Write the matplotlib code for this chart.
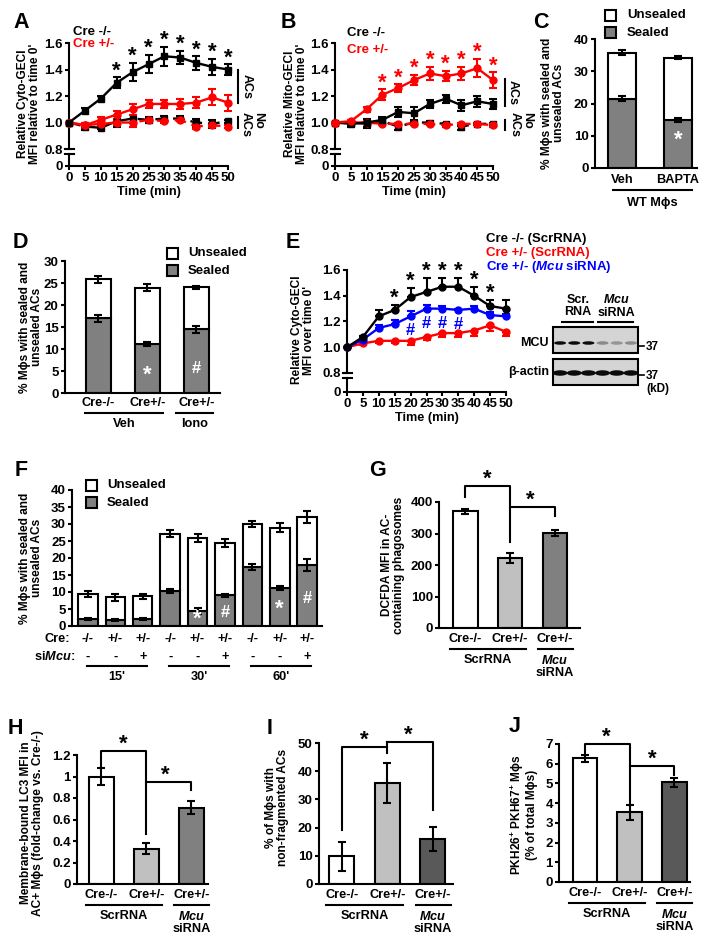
import numpy as np
import matplotlib
matplotlib.use('Agg')
import matplotlib.pyplot as plt
import matplotlib.transforms as mtransforms
from matplotlib.patches import Rectangle, Ellipse

plt.rcParams['font.family'] = ['Liberation Sans', 'DejaVu Sans']
plt.rcParams['font.weight'] = 'bold'
plt.rcParams['font.size'] = 9.5
plt.rcParams['axes.linewidth'] = 1.5
plt.rcParams['xtick.major.width'] = 1.5
plt.rcParams['ytick.major.width'] = 1.5
plt.rcParams['xtick.major.size'] = 3
plt.rcParams['ytick.major.size'] = 3
plt.rcParams['xtick.major.pad'] = 1.5
plt.rcParams['ytick.major.pad'] = 1.5
plt.rcParams['mathtext.fontset'] = 'custom'
plt.rcParams['mathtext.rm'] = 'Liberation Sans:bold'
plt.rcParams['mathtext.it'] = 'Liberation Sans:italic:bold'
plt.rcParams['mathtext.bf'] = 'Liberation Sans:bold'

# ---------------- data ----------------
times = [0, 5, 10, 15, 20, 25, 30, 35, 40, 45, 50]

# A: cyto-GECI
a_ko = [1.00, 1.09, 1.18, 1.30, 1.38, 1.44, 1.50, 1.49, 1.45, 1.42, 1.40]
a_ko_err = [0.00, 0.02, 0.02, 0.04, 0.07, 0.07, 0.07, 0.05, 0.05, 0.06, 0.04]
a_het = [1.00, 0.98, 1.02, 1.06, 1.10, 1.14, 1.14, 1.14, 1.15, 1.19, 1.15]
a_het_err = [0.00, 0.02, 0.02, 0.03, 0.04, 0.03, 0.03, 0.04, 0.04, 0.06, 0.06]
a_ko_noac = [1.00, 0.97, 0.96, 1.01, 1.03, 1.02, 1.03, 1.03, 1.00, 0.99, 1.01]
a_ko_noac_err = [0.00, 0.03, 0.01, 0.04, 0.03, 0.02, 0.02, 0.02, 0.03, 0.03, 0.01]
a_het_noac = [1.00, 0.98, 0.99, 1.00, 1.00, 1.02, 1.01, 1.02, 0.97, 0.98, 0.97]
a_het_noac_err = [0.00, 0.01, 0.01, 0.02, 0.03, 0.01, 0.01, 0.01, 0.02, 0.01, 0.01]

# B: mito-GECI
b_het = [1.00, 1.01, 1.10, 1.21, 1.26, 1.32, 1.37, 1.35, 1.37, 1.41, 1.32]
b_het_err = [0.00, 0.01, 0.02, 0.04, 0.03, 0.04, 0.05, 0.04, 0.05, 0.07, 0.06]
b_ko = [1.00, 0.99, 1.00, 1.02, 1.08, 1.07, 1.14, 1.18, 1.13, 1.16, 1.14]
b_ko_err = [0.00, 0.02, 0.03, 0.02, 0.04, 0.05, 0.03, 0.03, 0.04, 0.04, 0.04]
b_ko_noac = [1.00, 1.00, 0.99, 1.01, 0.97, 1.00, 1.00, 0.99, 0.97, 0.99, 0.99]
b_ko_noac_err = [0.00, 0.02, 0.03, 0.02, 0.03, 0.01, 0.01, 0.01, 0.03, 0.01, 0.01]
b_het_noac = [1.00, 1.00, 1.00, 0.99, 0.99, 0.99, 0.99, 0.98, 0.99, 0.99, 0.98]
b_het_noac_err = [0.00, 0.01, 0.01, 0.01, 0.01, 0.01, 0.01, 0.01, 0.01, 0.01, 0.01]

# C
c_groups = ['Veh', 'BAPTA']
c_total = [35.8, 34.2]
c_total_err = [0.9, 0.4]
c_sealed = [21.5, 14.8]
c_sealed_err = [0.8, 0.6]

# D
d_labels = ['Cre-/-', 'Cre+/-', 'Cre+/-']
d_total = [25.8, 23.9, 24.0]
d_total_err = [0.8, 0.8, 0.4]
d_sealed = [17.0, 11.2, 14.5]
d_sealed_err = [0.8, 0.5, 0.8]

# E
e_ko = [1.00, 1.08, 1.24, 1.29, 1.39, 1.43, 1.47, 1.47, 1.40, 1.32, 1.30]
e_ko_err = [0.00, 0.01, 0.05, 0.04, 0.07, 0.11, 0.07, 0.07, 0.07, 0.05, 0.07]
e_si = [1.00, 1.06, 1.15, 1.18, 1.24, 1.30, 1.30, 1.29, 1.30, 1.25, 1.24]
e_si_err = [0.00, 0.01, 0.02, 0.03, 0.04, 0.03, 0.02, 0.01, 0.02, 0.02, 0.02]
e_het = [1.00, 1.03, 1.05, 1.05, 1.05, 1.08, 1.11, 1.11, 1.13, 1.17, 1.12]
e_het_err = [0.00, 0.01, 0.02, 0.02, 0.03, 0.02, 0.03, 0.03, 0.04, 0.04, 0.03]
mcu_band = [0.95, 0.95, 0.95, 0.35, 0.3, 0.35]

# F
f_cre = ['-/-', '+/-', '+/-'] * 3
f_si = ['-', '-', '+'] * 3
f_time = ["15'", "30'", "60'"]
f_total = [9.4, 8.4, 8.7, 27.2, 25.9, 24.5, 30.0, 28.9, 32.0]
f_total_err = [1.0, 0.9, 0.8, 0.9, 1.3, 1.2, 0.8, 1.3, 1.8]
f_sealed = [2.2, 1.8, 2.0, 10.3, 4.5, 9.0, 17.3, 11.2, 18.0]
f_sealed_err = [0.3, 0.3, 0.3, 0.7, 0.9, 0.5, 0.8, 0.7, 1.8]
f_marks = ['', '', '', '', '*', '#', '', '*', '#']

# G-J
grp_labels = ['Cre-/-', 'Cre+/-', 'Cre+/-']
g_vals = [370, 222, 302]
g_err = [8, 15, 10]
h_vals = [1.00, 0.33, 0.71]
h_err = [0.08, 0.05, 0.06]
i_vals = [9.8, 35.8, 15.9]
i_err = [5.2, 7.2, 4.3]
j_vals = [6.28, 3.55, 5.05]
j_err = [0.18, 0.38, 0.22]

RED = '#ff0000'
BLUE = '#0000ff'
GRAY = '#808080'
TXT = 9.2

W, H = 714, 943
fig = plt.figure(figsize=(W / 100, H / 100), dpi=100)


def add_ax(x0, x1, ytop, ybot):
    ax = fig.add_axes([x0 / W, 1 - ybot / H, (x1 - x0) / W, (ybot - ytop) / H])
    ax.spines['top'].set_visible(False)
    ax.spines['right'].set_visible(False)
    return ax


def below(ax, dy):
    return mtransforms.offset_copy(ax.get_xaxis_transform(), fig=fig, x=0, y=-dy, units='dots')


def noclip(eb):
    for a in eb.get_children():
        a.set_clip_on(False)


def gec_axes(ax, k, lowcap):
    def fwd(y):
        y = np.asarray(y, float)
        return np.where(y >= 0.8, y, 0.8 - (0.8 - y) * k)

    def inv(y):
        y = np.asarray(y, float)
        return np.where(y >= 0.8, y, 0.8 - (0.8 - y) / k)
    ax.set_yscale('function', functions=(fwd, inv))
    ax.set_ylim(0, 1.6)
    ax.set_xlim(0, 50)
    ax.set_yticks([0, 0.8, 1.0, 1.2, 1.4, 1.6])
    ax.set_yticklabels(['0', '0.8', '1.0', '1.2', '1.4', '1.6'])
    ax.set_xticks(times)
    ax.spines['left'].set_visible(False)
    tr = ax.get_yaxis_transform()
    wpx = ax.get_position().width * W
    w = 4.5 / wpx
    ax.plot([0, 0], [0.8, 1.6], transform=tr, color='k', lw=1.5, clip_on=False)
    ax.plot([0, 0], [0, lowcap], transform=tr, color='k', lw=1.5, clip_on=False)
    for yy in (0.8, lowcap):
        ax.plot([-w, w], [yy, yy], transform=tr, color='k', lw=1.5, clip_on=False)
    ax.text(25, 0, 'Time (min)', transform=below(ax, 26), ha='center', va='center', fontsize=TXT)


def series(ax, y, err, color, marker, ls='-', lolims=None):
    yerr = err
    if lolims == 'up':
        yerr = [np.zeros(len(err)), err]
    elif lolims == 'down':
        yerr = [err, np.zeros(len(err))]
    eb = ax.errorbar(times, y, yerr=yerr, color=color, lw=1.7, ls=ls, marker=marker, ms=5,
                     capsize=3, capthick=1.5, elinewidth=1.5, zorder=3)
    if ls != '-':
        eb[0].set_dashes((5, 2.5))
    noclip(eb)


def star(ax, x, y, s='*', color='k', size=16, dy=-3):
    ax.annotate(s, xy=(x, y), xytext=(0, dy), textcoords='offset points', ha='center',
                va='bottom', color=color, fontsize=size, annotation_clip=False)


# ---------------- A ----------------
axA = add_ax(69, 228, 43, 166)
gec_axes(axA, 0.16, 0.565)
series(axA, a_ko_noac, a_ko_noac_err, 'k', 's', ls='--')
series(axA, a_het_noac, a_het_noac_err, RED, 'o', ls='--')
series(axA, a_het, a_het_err, RED, 'o')
series(axA, a_ko, a_ko_err, 'k', 's')
for x, y, e in zip(times[3:], a_ko[3:], a_ko_err[3:]):
    star(axA, x, y + e)

# ---------------- B ----------------
axB = add_ax(335, 493, 43, 166)
gec_axes(axB, 0.16, 0.565)
series(axB, b_ko_noac, b_ko_noac_err, 'k', 's', ls='--')
series(axB, b_het_noac, b_het_noac_err, RED, 'o', ls='--')
series(axB, b_ko, b_ko_err, 'k', 's')
series(axB, b_het, b_het_err, RED, 'o')
for x, y, e in zip(times[3:], b_het[3:], b_het_err[3:]):
    star(axB, x, y + e, color=RED)


def stacked(ax, x, total, total_err, sealed, sealed_err, width):
    unsealed = np.array(total) - np.array(sealed)
    ax.bar(x, sealed, width, color=GRAY, edgecolor='k', lw=1.5, zorder=2)
    ax.bar(x, unsealed, width, bottom=sealed, color='white', edgecolor='k', lw=1.5, zorder=2)
    for vals, errs in ((total, total_err), (sealed, sealed_err)):
        eb = ax.errorbar(x, vals, yerr=errs, fmt='none', ecolor='k', elinewidth=1.5,
                         capsize=3, capthick=1.5, zorder=3)
        noclip(eb)
    ax.set_xticks([])


# ---------------- C ----------------
axC = add_ax(595, 697, 39, 168)
c_x = np.arange(len(c_groups))
stacked(axC, c_x, c_total, c_total_err, c_sealed, c_sealed_err, 0.5)
axC.set_xlim(-0.48, 1.34)
axC.set_ylim(0, 40)
axC.set_yticks([0, 10, 20, 30, 40])
for x, s in zip(c_x, c_groups):
    axC.text(x, 0, s, transform=below(axC, 12), ha='center', va='center', fontsize=TXT)
axC.plot([-0.16, 1.25], [0, 0], transform=below(axC, 22), color='k', lw=1.5, clip_on=False)
axC.text(0.55, 0, 'WT Mϕs', transform=below(axC, 35), ha='center', va='center', fontsize=TXT)
axC.text(1, 8.5, '*', ha='center', va='center', color='white', fontsize=16)

# ---------------- D ----------------
axD = add_ax(65, 220, 261, 393)
d_x = np.arange(len(d_labels))
stacked(axD, d_x, d_total, d_total_err, d_sealed, d_sealed_err, 0.51)
axD.set_xlim(-0.68, 2.48)
axD.set_ylim(0, 30)
axD.set_yticks([0, 5, 10, 15, 20, 25, 30])
for x, s in zip(d_x, d_labels):
    axD.text(x, 0, s, transform=below(axD, 10), ha='center', va='center', fontsize=TXT)
axD.plot([-0.28, 1.32], [0, 0], transform=below(axD, 20), color='k', lw=1.5, clip_on=False)
axD.plot([1.58, 2.34], [0, 0], transform=below(axD, 20), color='k', lw=1.5, clip_on=False)
axD.text(0.52, 0, 'Veh', transform=below(axD, 31), ha='center', va='center', fontsize=TXT)
axD.text(1.96, 0, 'Iono', transform=below(axD, 31), ha='center', va='center', fontsize=TXT)
axD.text(1, 4.0, '*', ha='center', va='center', color='white', fontsize=16)
axD.text(2, 5.5, '#', ha='center', va='center', color='white', fontsize=12)

# ---------------- E ----------------
axE = add_ax(347, 506, 270, 392)
gec_axes(axE, 0.1845, 0.59)
series(axE, e_het, e_het_err, RED, 'o', lolims='down')
series(axE, e_si, e_si_err, BLUE, 'o', lolims='up')
series(axE, e_ko, e_ko_err, 'k', 'o', lolims='up')
for x, y, e in zip(times[3:10], e_ko[3:10], e_ko_err[3:10]):
    star(axE, x, y + e)
for x, y in zip(times[4:8], e_si[4:8]):
    axE.annotate('#', xy=(x, y), xytext=(0, -5), textcoords='offset points', ha='center',
                 va='top', color=BLUE, fontsize=12)

# ---------------- F ----------------
axF = add_ax(72, 322, 490, 626)
f_x = np.arange(len(f_total))
stacked(axF, f_x, f_total, f_total_err, f_sealed, f_sealed_err, 0.71)
axF.set_xlim(-0.58, 8.54)
axF.set_ylim(0, 40)
axF.set_yticks(range(0, 41, 5))
for x, s, m, sv in zip(f_x, f_cre, f_marks, f_sealed):
    axF.text(x, 0, s, transform=below(axF, 13), ha='center', va='center', fontsize=TXT)
    if m:
        axF.text(x, min(sv * 0.45, 8), m, ha='center', va='center', color='white',
                 fontsize=16 if m == '*' else 12)
for x, s in zip(f_x, f_si):
    axF.text(x, 0, s, transform=below(axF, 31), ha='center', va='center', fontsize=TXT)
axF.text(-0.66, 0, 'Cre:', transform=below(axF, 13), ha='right', va='center', fontsize=TXT)
axF.text(-0.47, 0, r'si$\mathit{Mcu}$:', transform=below(axF, 31), ha='right', va='center',
         fontsize=TXT)
for g, s in enumerate(f_time):
    axF.plot([g * 3 - 0.05, g * 3 + 2.15], [0, 0], transform=below(axF, 40), color='k', lw=1.5,
             clip_on=False)
    axF.text(g * 3 + 1.05, 0, s, transform=below(axF, 51), ha='center', va='center', fontsize=TXT)


# ---------------- G-J ----------------
def bars3(ax, vals, errs, colors, ylim, yticks, xlim, yticklabels=None):
    x = np.arange(3)
    ax.bar(x, vals, 0.55, color=colors, edgecolor='k', lw=1.5, zorder=2)
    eb = ax.errorbar(x, vals, yerr=errs, fmt='none', ecolor='k', elinewidth=1.5, capsize=3,
                     capthick=1.5, zorder=3)
    noclip(eb)
    ax.set_xlim(*xlim)
    ax.set_ylim(*ylim)
    ax.set_yticks(yticks)
    if yticklabels:
        ax.set_yticklabels(yticklabels)
    ax.set_xticks([])
    for xi, s in zip(x, grp_labels):
        ax.text(xi, 0, s, transform=below(ax, 11), ha='center', va='center', fontsize=TXT)
    ax.plot([-0.35, 1.35], [0, 0], transform=below(ax, 21), color='k', lw=1.5, clip_on=False)
    ax.plot([1.62, 2.4], [0, 0], transform=below(ax, 21), color='k', lw=1.5, clip_on=False)
    ax.text(0.5, 0, 'ScrRNA', transform=below(ax, 32), ha='center', va='center', fontsize=TXT)
    ax.text(2.0, 0, r'$\mathit{Mcu}$', transform=below(ax, 32), ha='center', va='center',
            fontsize=TXT)
    ax.text(2.0, 0, 'siRNA', transform=below(ax, 45), ha='center', va='center', fontsize=TXT)


def bracket(ax, xs, ys):
    ax.plot(xs, ys, color='k', lw=1.5, clip_on=False, zorder=4)


axG = add_ax(439, 580, 502, 628)
bars3(axG, g_vals, g_err, ['white', '#c0c0c0', GRAY], (0, 400), [0, 100, 200, 300, 400],
      (-0.59, 2.56))
bracket(axG, [0, 0, 1, 1], [416, 451, 451, 273])
bracket(axG, [1, 2, 2], [384, 384, 356])
star(axG, 0.48, 451)
star(axG, 1.45, 384)

axH = add_ax(77, 208, 755, 884)
bars3(axH, h_vals, h_err, ['white', '#c0c0c0', GRAY], (0, 1.2), [0, 0.2, 0.4, 0.6, 0.8, 1.0, 1.2],
      (-0.54, 2.37), ['0', '0.2', '0.4', '0.6', '0.8', '1', '1.2'])
bracket(axH, [0, 0, 1, 1], [1.09, 1.237, 1.237, 0.465])
bracket(axH, [1, 2, 2], [0.95, 0.95, 0.874])
star(axH, 0.48, 1.237)
star(axH, 1.43, 0.95)

axI = add_ax(319, 453, 743, 884)
bars3(axI, i_vals, i_err, ['white', '#c0c0c0', '#595959'], (0, 50), [0, 10, 20, 30, 40, 50],
      (-0.5, 2.44))
bracket(axI, [0, 0, 1], [19.1, 48.6, 48.6])
bracket(axI, [1, 1], [46.5, 50.4])
bracket(axI, [1, 2, 2], [50.4, 50.4, 26.2])
star(axI, 0.5, 48.6)
star(axI, 1.47, 50.4)

axJ = add_ax(559, 690, 744, 882)
bars3(axJ, j_vals, j_err, ['white', '#c0c0c0', '#595959'], (0, 7), range(0, 8), (-0.58, 2.35))
bracket(axJ, [0, 0, 1, 1], [6.45, 7.0, 7.0, 4.0])
bracket(axJ, [1, 2, 2], [5.89, 5.89, 5.43])
star(axJ, 0.47, 7.0)
star(axJ, 1.5, 5.89)

# ---------------- overlay (pixel coordinates) ----------------
ov = fig.add_axes([0, 0, 1, 1])
ov.set_xlim(0, W)
ov.set_ylim(H, 0)
ov.axis('off')
ov.set_zorder(10)

for s, x, y in [('A', 21, 23), ('B', 288, 23), ('C', 541, 22), ('D', 20, 243), ('E', 293, 243),
                ('F', 21, 471), ('G', 378, 470), ('H', 15, 729), ('I', 270, 728), ('J', 515, 727)]:
    ov.text(x, y, s, fontsize=15.5, ha='center', va='center')

ylabels = [
    (29, 104, "Relative Cyto-GECI\nMFI relative to time 0'"),
    (296, 104, "Relative Mito-GECI\nMFI relative to time 0'"),
    (553, 103, "% Mϕs with sealed and\nunsealed ACs"),
    (31, 327, "% Mϕs with sealed and\nunsealed ACs"),
    (303, 330, "Relative Cyto-GECI\nMFI over time 0'"),
    (31, 558, "% Mϕs with sealed and\nunsealed ACs"),
    (393, 565, "DCFDA MFI in AC-\ncontaining phagosomes"),
    (32, 823, "Membrane-bound LC3 MFI in\nAC+ Mϕs (fold-change vs. Cre-/-)"),
    (277, 807, "% of Mϕs with\nnon-fragmented ACs"),
    (523, 815, "PKH26$^{+}$ PKH67$^{+}$ Mϕs\n(% of total Mϕs)"),
]
for x, y, s in ylabels:
    ov.text(x, y, s, rotation=90, ha='center', va='center', fontsize=8.6, linespacing=1.05)

# A/B/E legends
ov.text(73, 32, 'Cre -/-', ha='left', va='center', fontsize=9.5)
ov.text(73, 44, 'Cre +/-', ha='left', va='center', fontsize=9.5, color=RED)
ov.text(347, 33, 'Cre -/-', ha='left', va='center', fontsize=9.5)
ov.text(347, 50, 'Cre +/-', ha='left', va='center', fontsize=9.5, color=RED)
ov.text(486, 239, 'Cre -/- (ScrRNA)', ha='left', va='center', fontsize=9.5)
ov.text(486, 253, 'Cre +/- (ScrRNA)', ha='left', va='center', fontsize=9.5, color=RED)
ov.text(486, 267, r'Cre +/- ($\mathit{Mcu}$ siRNA)', ha='left', va='center', fontsize=9.5,
        color=BLUE)

# AC / No AC brackets
for bx, tx, nx, y1, y2, y3, y4 in [(238, 247, 252, 70, 103, 117, 128), (505, 513, 521, 79, 106, 120, 130)]:
    ov.plot([bx, bx], [y1, y2], color='k', lw=1.5)
    ov.plot([bx, bx], [y3, y4], color='k', lw=1.5)
    ov.text(tx, (y1 + y2) / 2, 'ACs', rotation=-90, ha='center', va='center', fontsize=9)
    ov.text(nx, 124, 'No\nACs', rotation=-90, ha='center', va='center', fontsize=9,
            multialignment='left', linespacing=1.0)

# stacked-bar legends
for sx, sy1, sy2, tx in [(605, 10, 27, 627), (167, 248, 265, 188), (86, 480, 497, 107)]:
    ov.add_patch(Rectangle((sx, sy1), 11, 11, facecolor='white', edgecolor='k', lw=1.5))
    ov.add_patch(Rectangle((sx, sy2), 11, 11, facecolor=GRAY, edgecolor='k', lw=1.5))
    ov.text(tx, sy1 + 5.5, 'Unsealed', ha='left', va='center', fontsize=9.5)
    ov.text(tx, sy2 + 5.5, 'Sealed', ha='left', va='center', fontsize=9.5)

# western blot (E)
for y0 in (327, 359):
    ov.add_patch(Rectangle((553, y0), 85, 26, facecolor='#d4d4d4', edgecolor='k', lw=1.5))
lane_w = 85 / 6
for i, inten in enumerate(mcu_band):
    cx = 553 + lane_w * (i + 0.5)
    ov.add_patch(Ellipse((cx, 343), lane_w * 0.85, 3.5, facecolor='k', alpha=inten, lw=0))
    ov.add_patch(Ellipse((cx, 373), lane_w * 1.05, 5.5, facecolor='k', alpha=0.95, lw=0))
ov.text(578, 306, 'Scr.\nRNA', ha='center', va='center', fontsize=9, linespacing=1.1)
ov.text(616, 306, r'$\mathit{Mcu}$' + '\nsiRNA', ha='center', va='center', fontsize=9,
        linespacing=1.1)
ov.plot([562, 593], [322, 322], color='k', lw=1.5)
ov.plot([598, 633], [322, 322], color='k', lw=1.5)
ov.text(549, 343, 'MCU', ha='right', va='center', fontsize=9)
ov.text(549, 372, 'β-actin', ha='right', va='center', fontsize=9)
for yy in (346, 375):
    ov.plot([638, 644], [yy, yy], color='k', lw=1.2)
    ov.text(646, yy + 1, '37', ha='left', va='center', fontsize=8.5)
ov.text(646, 389, '(kD)', ha='left', va='center', fontsize=8.5)

fig.savefig('out.png', dpi=100)
